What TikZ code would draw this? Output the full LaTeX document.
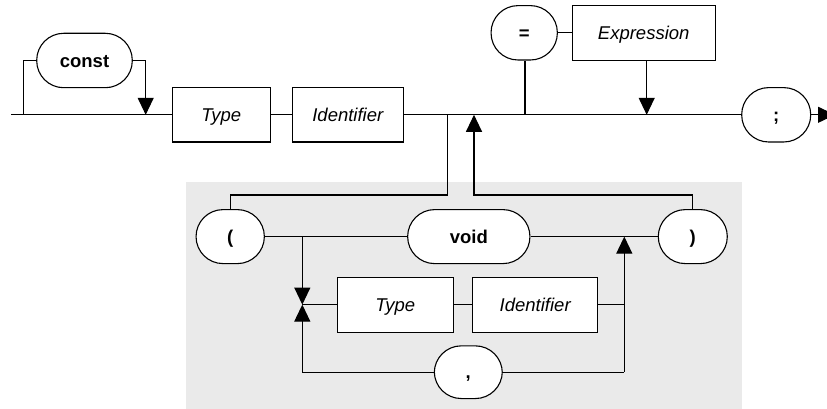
\documentclass[tikz,border=0pt]{standalone}
\usepackage{fontspec}
\setmainfont{Liberation Sans}
\usetikzlibrary{arrows.meta}
\definecolor{panel}{RGB}{234,234,234}
\tikzset{
  base/.style={draw=black, line width=1.1pt, fill=white, inner sep=0pt, text height=13.3pt, text depth=0pt,
    font=\fontsize{18.5}{22}\selectfont},
  term/.style={base, rectangle, rounded corners=27pt, font=\fontsize{18.5}{22}\selectfont\bfseries},
  nonterm/.style={base, rectangle, font=\fontsize{18.5}{22}\selectfont\itshape},
  wire/.style={line width=1.1pt},
  arr/.style={wire, -{Triangle[width=16pt,length=17pt]}}
}
\begin{document}
\begin{tikzpicture}[x=1pt,y=-1pt]
\useasboundingbox (0,0) rectangle (827,409);
\clip (0,0) rectangle (827,409);
\fill[panel] (185.7,181.7) rectangle (741.7,408.5);

% main row nodes
\node[term, minimum width=95.6pt, minimum height=54.4pt] (const) at (84.5,60.5) {const};
\node[nonterm, minimum width=97.7pt, minimum height=54.4pt] (type1) at (221.2,114.8) {Type};
\node[nonterm, minimum width=111pt, minimum height=54.4pt] (ident1) at (347.8,114.8) {Identifier};
\node[term, minimum width=66.3pt, minimum height=54.4pt] (eq) at (524.2,32.8) {=};
\node[nonterm, minimum width=142.7pt, minimum height=54.7pt] (expr) at (643.7,32.8) {Expression};
\node[term, minimum width=69pt, minimum height=54.4pt] (semi) at (776.2,114.8) {;};

% panel nodes
\node[term, minimum width=68.3pt, minimum height=54pt] (lpar) at (230.2,236.6) {(};
\node[term, minimum width=122.3pt, minimum height=54pt] (void) at (468.8,236.6) {void};
\node[term, minimum width=69pt, minimum height=54pt] (rpar) at (692.8,236.6) {)};
\node[nonterm, minimum width=116pt, minimum height=55pt] (type2) at (395.3,304.6) {Type};
\node[nonterm, minimum width=125pt, minimum height=55pt] (ident2) at (535.2,304.6) {Identifier};
\node[term, minimum width=68pt, minimum height=52.7pt] (comma) at (468.3,372.2) {,};

% coordinates
\coordinate (start) at (11,114.8);
\coordinate (loopL) at (23.3,114.8);
\coordinate (constIn) at (145.7,114.8);
\coordinate (eqJ) at (525,114.8);
\coordinate (exprJ) at (646.7,114.8);
\coordinate (downJ) at (447.7,114.8);
\coordinate (upJ) at (474,114.8);
\coordinate (finish) at (835,114.8);
\coordinate (splitL) at (302.3,236.6);
\coordinate (merge) at (302.3,304.6);
\coordinate (botL) at (302.3,372.2);
\coordinate (rightJ) at (624.3,236.6);
\coordinate (botR) at (624.3,372.2);

% main line
\draw[wire] (start) -- (type1.west);
\draw[wire] (type1.east) -- (ident1.west);
\draw[wire] (ident1.east) -- (semi.west);
\draw[arr] (semi.east) -- (finish);
\draw[wire] (loopL) |- (const.west);
\draw[arr] (const.east) -| (constIn);
\draw[wire] (eqJ) -- (eqJ |- eq.south);
\draw[wire] (eq.east) -- (expr.west);
\draw[arr] (exprJ |- expr.south) -- (exprJ);

% panel connections
\draw[wire] (downJ) -- (447.7,195) -| (lpar.north);
\draw[arr] (rpar.north) |- (474,195) -- (upJ);
\draw[wire] (lpar.east) -- (void.west);
\draw[wire] (void.east) -- (rpar.west);
\draw[arr] (splitL) -- (merge);
\draw[arr] (botL) -- (merge);
\draw[wire] (merge) -- (type2.west);
\draw[wire] (type2.east) -- (ident2.west);
\draw[wire] (ident2.east) -- (ident2.east -| rightJ);
\draw[wire] (botL) -- (comma.west);
\draw[wire] (comma.east) -- (botR);
\draw[arr] (botR) -- (rightJ);
\end{tikzpicture}
\end{document}
